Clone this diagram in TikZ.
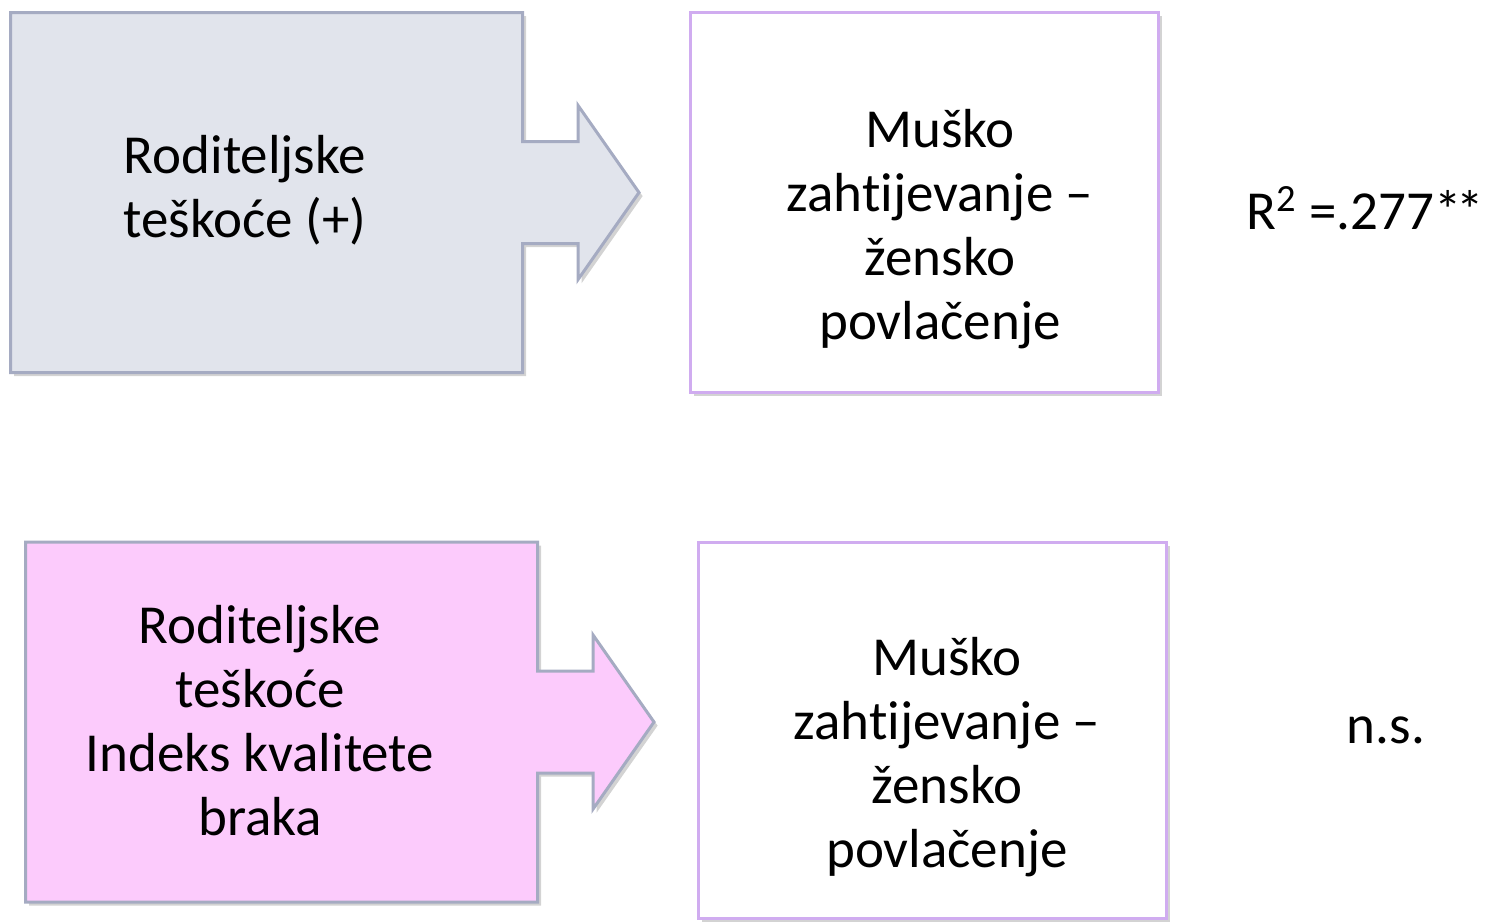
\documentclass[tikz,border=0pt]{standalone}
\usepackage{fontspec}
\setmainfont{Carlito}[Ligatures=NoCommon]
\usepackage{xcolor}
\usepackage{tikz}
\usetikzlibrary{shapes,arrows,positioning,calc,shadows}
\definecolor{boxgray}{RGB}{225,228,236}
\definecolor{boxpink}{RGB}{252,203,252}
\definecolor{edgegray}{RGB}{165,171,194}
\definecolor{edgelilac}{RGB}{208,172,240}

\begin{document}
\begin{tikzpicture}[x=0.5pt, y=-0.5pt,
    src/.style={arrow box, draw=edgegray, line width=1.5pt, inner sep=0pt,
        minimum width=256pt, minimum height=180pt,
        arrow box arrows={east:57.5pt}, arrow box shaft width=51pt,
        arrow box head extend=18pt, arrow box head indent=0pt, arrow box tip angle=110,
        drop shadow={shadow xshift=1.8pt, shadow yshift=-1.8pt, opacity=0.35}},
    dst/.style={rectangle, draw=edgelilac, fill=white, line width=1.5pt, inner sep=0pt,
        minimum width=234pt,
        drop shadow={shadow xshift=1.8pt, shadow yshift=-1.8pt, opacity=0.35}},
    txt/.style={align=center, inner sep=0pt, font=\fontsize{27.5}{32}\selectfont}]
    \useasboundingbox (0,0) rectangle (1485,922);

    % Arrow boxes
    \node [src, fill=boxgray] (src1) at (266.5,192.5) {};
    \node [src, fill=boxpink] (src2) at (281.5,722) {};

    % Outcome boxes
    \node [dst, minimum height=190pt] (dst1) at (924.5,202) {};
    \node [dst, minimum height=188pt] (dst2) at (932,730) {};

    % Labels
    \node [txt] (lab1) at ([shift={(-21.5,-2)}]src1.center) {Roditeljske\\teškoće (+)};
    \node [txt] (lab2) at ([shift={(-21.5,-1)}]src2.center) {Roditeljske\\teškoće\\Indeks kvalitete\\braka};
    \node [txt] (out1) at ([shift={(15.5,27)}]dst1.center) {Muško\\zahtijevanje –\\žensko\\povlačenje};
    \node [txt] (out2) at ([shift={(15,27)}]dst2.center) {Muško\\zahtijevanje –\\žensko\\povlačenje};

    % Results
    \node [txt, anchor=west] (res1) at (1246,208) {R\textsuperscript{2} =.277*\kern-2.5pt*};
    \node [txt] (res2) at (1386,730) {n.s.};
\end{tikzpicture}
\end{document}
